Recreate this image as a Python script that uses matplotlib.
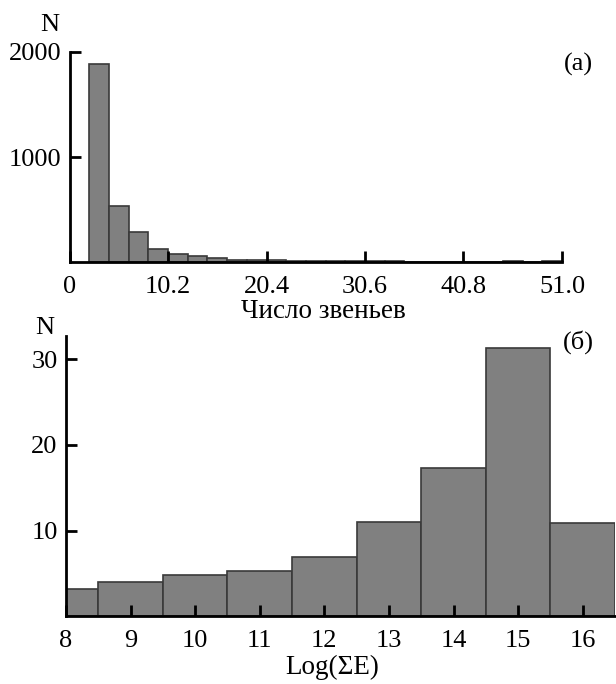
import numpy as np
import matplotlib.pyplot as plt

plt.rcParams['font.family'] = ['Liberation Serif', 'DejaVu Serif']

# (a) number of links, bin width 2.04
link_edges = np.arange(1, 26) * 2.04
link_counts = [1885, 532, 288, 128, 80, 58, 36, 18, 18, 15, 8, 8, 8, 8, 8, 6,
               0, 0, 0, 0, 0, 12, 0, 12]
link_ticks = [0, 10.2, 20.4, 30.6, 40.8, 51.0]
link_ticklabels = ['0', '10.2', '20.4', '30.6', '40.8', '51.0']

# (б) log of summed energy
energy_centers = [8, 9, 10, 11, 12, 13, 14, 15, 16]
energy_counts = [3.2, 4.0, 4.8, 5.3, 6.9, 11.05, 17.3, 31.3, 10.9]
energy_ticks = [8, 9, 10, 11, 12, 13, 14, 15, 16]

W, H = 616, 684
fig = plt.figure(figsize=(W / 100, H / 100), dpi=100)

bar_kw = dict(color='#808080', edgecolor='#3a3a3a', linewidth=1.2)
fs = 19


def style(ax):
    for s in ['top', 'right']:
        ax.spines[s].set_visible(False)
    for s in ['left', 'bottom']:
        ax.spines[s].set_linewidth(2)
    ax.tick_params(direction='in', length=8, width=2, labelsize=fs)
    ax.tick_params(axis='x', pad=10)
    ax.tick_params(axis='y', pad=6)


# top panel
ax1 = fig.add_axes([69.5 / W, 1 - 262 / H, (562 - 69.5) / W, (262 - 52) / H])
ax1.bar(link_edges[:-1], link_counts, width=2.04, align='edge', **bar_kw)
ax1.set_xlim(0, 51)
ax1.set_ylim(0, 2000)
ax1.set_xticks(link_ticks)
ax1.set_xticklabels(link_ticklabels)
ax1.set_yticks([1000, 2000])
style(ax1)

# bottom panel
ax2 = fig.add_axes([66 / W, 1 - 616.4 / H, (615 - 66) / W, (616.4 - 336) / H])
ax2.bar(energy_centers, energy_counts, width=1.0, **bar_kw)
ax2.set_xlim(8, 16.5)
ax2.set_ylim(0, 32.7)
ax2.set_xticks(energy_ticks)
ax2.set_yticks([10, 20, 30])
style(ax2)


def ftext(x, y, s, **kw):
    fig.text(x / W, 1 - y / H, s, ha='center', va='center', **kw)


ftext(50, 25, 'N', fontsize=fs)
ftext(45, 328, 'N', fontsize=fs)
ftext(578, 64, '(a)', fontsize=fs)
ftext(578, 342, '(б)', fontsize=fs)
ftext(323, 311, 'Число звеньев', fontsize=19.5)
ftext(332, 667, 'Log(ΣE)', fontsize=19.5)

fig.savefig('out.png', dpi=100)
